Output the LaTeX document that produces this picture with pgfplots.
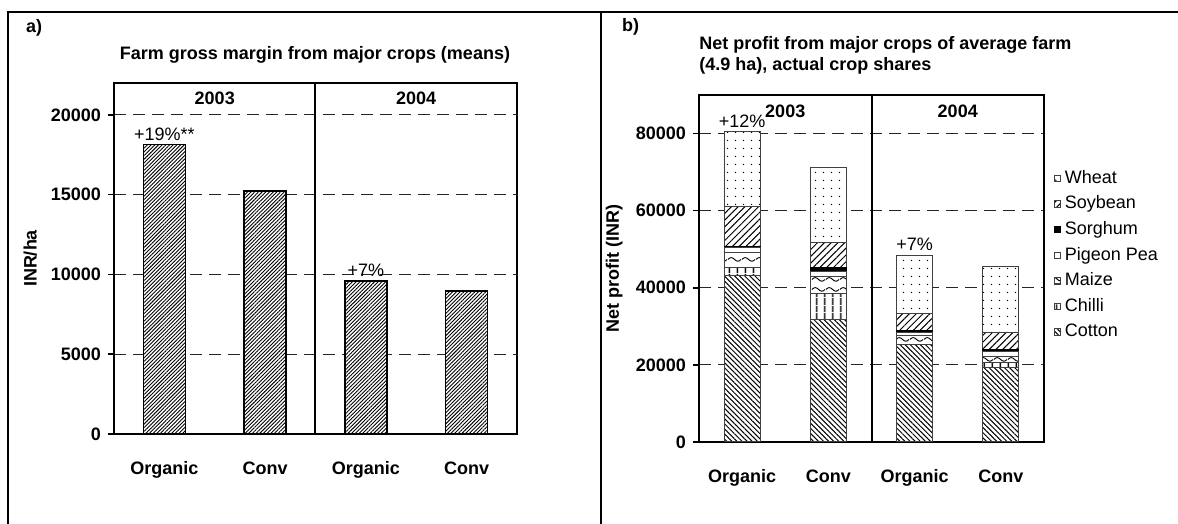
\documentclass[border=0pt]{standalone}
\usepackage{fontspec}
\setmainfont{Liberation Sans}
\usepackage{pgfplots}
\pgfplotsset{compat=1.18}
\usetikzlibrary{patterns,patterns.meta}

\tikzdeclarepattern{
  name=Waves, type=uncolored,
  bounding box={(0pt,0pt) and (7pt,5pt)},
  tile size={(7pt,5pt)},
  code={\draw[line width=0.5pt] (0pt,2.5pt) sin (1.75pt,3.5pt) cos (3.5pt,2.5pt) sin (5.25pt,1.5pt) cos (7pt,2.5pt);}
}

\newcommand{\nf}{\fontsize{9}{11}\selectfont}
\newcommand{\bff}{\bfseries\fontsize{9}{11}\selectfont}

\pgfplotsset{
  myax/.style={
    scale only axis,
    axis line style={line width=0.75pt},
    tick label style={font=\bff},
    scaled y ticks=false,
    /pgf/number format/assume math mode=true,
    /pgf/number format/1000 sep={},
    ymajorgrids,
    grid style={black!85, line width=0.5pt, dash pattern=on 6pt off 3.5pt},
    ytick pos=left,
    xtick style={draw=none},
    ytick style={line width=0.75pt, black},
    tick align=outside,
    major tick length=3pt,
    xmin=-0.5, xmax=3.5, ymin=0,
    xtick={0,1,2,3},
    xticklabels={Organic,Conv,Organic,Conv},
    xticklabel style={anchor=north, text height=7pt, text depth=2pt, yshift=-6.5pt},
    clip=false,
  }
}

\pgfplotstableread{
x cotton chilli maize pigeon sorghum soybean wheat
0 43100 2100 3900 1300 400 10200 19500
1 31700 6800 4300 1400 1000 6600 19400
2 25300 0 2300 900 400 4500 15100
3 19400 1300 1500 1300 600 4300 17000
}\profit

\begin{document}
\begin{tikzpicture}
\useasboundingbox (0,0) rectangle (589pt,262pt);
\draw[line width=1pt] (4pt,-2pt) -- (4pt,256pt) -- (592pt,256pt);
\draw[line width=1pt] (300.5pt,-2pt) -- (300.5pt,256pt);

\node[anchor=west,font=\bff] at (9.5pt,248pt) {a)};
\node[font=\bff] at (157.5pt,234.5pt) {Farm gross margin from major crops (means)};
\node[anchor=west,font=\bff] at (307.5pt,248.5pt) {b)};
\node[anchor=west,font=\bff,inner sep=0pt] at (349.5pt,239.5pt) {Net profit from major crops of average farm};
\node[anchor=west,font=\bff,inner sep=0pt] at (349.5pt,229pt) {(4.9 ha), actual crop shares};

\begin{axis}[myax,
  at={(57pt,45pt)}, anchor=south west,
  width=201.5pt, height=175.5pt,
  ymax=22000,
  ytick={0,5000,10000,15000,20000},
  ylabel={INR/ha},
  every axis y label/.style={at={(axis description cs:-0.208,0.5)}, rotate=90, anchor=center, font=\bff},
]
\addplot[ybar, bar width=21pt, draw=black, line width=0.75pt,
  pattern={Lines[angle=45,distance=1.3pt,line width=0.45pt]},
  preaction={fill=white}]
  coordinates {(0,18130) (1,15245) (2,9598) (3,8970)};
\draw[line width=1pt] (axis cs:1.5,0) -- (axis cs:1.5,22000);
\node[font=\bff] at (axis cs:0.5,21050) {2003};
\node[font=\bff] at (axis cs:2.5,21050) {2004};
\node[above,font=\nf,inner sep=2pt] at (axis cs:0,18130) {+19\%**};
\node[above,font=\nf,inner sep=2pt] at (axis cs:2,9598) {+7\%};
\end{axis}

\begin{axis}[myax,
  at={(349.5pt,41pt)}, anchor=south west,
  width=172.5pt, height=173.5pt,
  ymax=90000,
  ytick={0,20000,40000,60000,80000},
  ylabel={Net profit (INR)},
  every axis y label/.style={at={(axis description cs:-0.246,0.5)}, rotate=90, anchor=center, font=\bff},
  ybar stacked, bar width=18pt,
  reverse legend,
  legend cell align=left,
  legend style={at={(1.027,0.796)}, anchor=north west, draw=none, fill=none,
    font=\nf, row sep=0.8pt, inner sep=0pt},
  every axis plot post/.append style={
    legend image code/.code={\draw[##1, line width=0.4pt] (0pt,-1.6pt) rectangle (3.2pt,1.6pt);}},
]
\addplot[draw=black!75, line width=0.5pt, pattern={Lines[angle=-45,distance=1.8pt,line width=0.5pt]}, preaction={fill=white}]
  table[x=x,y=cotton]{\profit};
\addlegendentry{Cotton}
\addplot[draw=black!75, line width=0.5pt, pattern={Lines[angle=90,distance=4pt,line width=0.8pt]}, preaction={fill=white}]
  table[x=x,y=chilli]{\profit};
\addlegendentry{Chilli}
\addplot[draw=black!75, line width=0.5pt, pattern=Waves, preaction={fill=white}]
  table[x=x,y=maize]{\profit};
\addlegendentry{Maize}
\addplot[draw=black!75, line width=0.5pt, fill=white]
  table[x=x,y=pigeon]{\profit};
\addlegendentry{Pigeon Pea}
\addplot[draw=black, line width=0.5pt, fill=black]
  table[x=x,y=sorghum]{\profit};
\addlegendentry{Sorghum}
\addplot[draw=black!75, line width=0.5pt, pattern={Lines[angle=45,distance=2.4pt,line width=0.5pt]}, preaction={fill=white}]
  table[x=x,y=soybean]{\profit};
\addlegendentry{Soybean}
\addplot[draw=black!75, line width=0.5pt, pattern={Dots[distance=4pt,radius=0.4pt]}, preaction={fill=white}]
  table[x=x,y=wheat]{\profit};
\addlegendentry{Wheat}
\draw[line width=1pt] (axis cs:1.5,0) -- (axis cs:1.5,90000);
\node[font=\bff] at (axis cs:0.5,85700) {2003};
\node[font=\bff] at (axis cs:2.5,85700) {2004};
\node[above,font=\nf,inner sep=2pt] at (axis cs:0,80500) {+12\%};
\node[above,font=\nf,inner sep=2pt] at (axis cs:2,48500) {+7\%};
\end{axis}
\end{tikzpicture}
\end{document}
